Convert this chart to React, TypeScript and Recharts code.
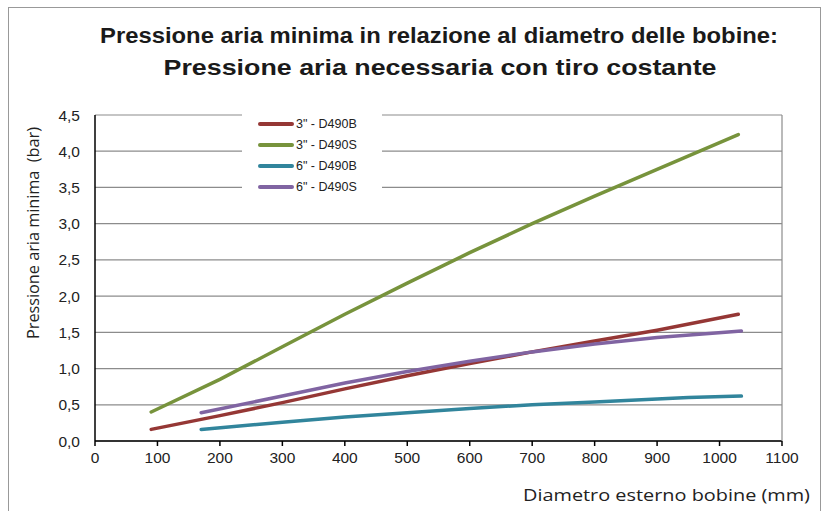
import { LineChart, Line, XAxis, YAxis, CartesianGrid } from "recharts";

const SERIES_NAMES = ['3" - D490B', '3" - D490S', '6" - D490B', '6" - D490S'];
const COLORS = ["#953735", "#77933C", "#31859C", "#8064A2"];

// diametro (mm)
const X_3B = [90, 200, 300, 400, 500, 600, 700, 800, 900, 1030];
const Y_3B = [0.16, 0.35, 0.53, 0.72, 0.9, 1.07, 1.23, 1.38, 1.53, 1.75];

const X_3S = [90, 200, 300, 400, 500, 600, 700, 800, 900, 1030];
const Y_3S = [0.4, 0.85, 1.3, 1.75, 2.18, 2.6, 3.0, 3.38, 3.75, 4.23];

const X_6B = [170, 300, 400, 500, 600, 700, 800, 900, 950, 1035];
const Y_6B = [0.16, 0.26, 0.33, 0.39, 0.45, 0.5, 0.54, 0.58, 0.6, 0.62];

const X_6S = [170, 300, 400, 500, 600, 700, 800, 900, 1035];
const Y_6S = [0.39, 0.62, 0.8, 0.96, 1.1, 1.23, 1.34, 1.43, 1.52];

const X_TICKS = [0, 100, 200, 300, 400, 500, 600, 700, 800, 900, 1000, 1100];
const Y_TICKS = [0, 0.5, 1, 1.5, 2, 2.5, 3, 3.5, 4, 4.5];

const zip = (xs: number[], ys: number[]) => xs.map((x, i) => ({ x, y: ys[i] }));
const seriesData = [zip(X_3B, Y_3B), zip(X_3S, Y_3S), zip(X_6B, Y_6B), zip(X_6S, Y_6S)];

const tickFont = { fontFamily: "Liberation Sans, Arial", fontSize: 15.5, fill: "#222" };
const labelFont = "Open Sans, DejaVu Sans, sans-serif";

// legenda sovrapposta al grafico (copre la griglia)
const LegendBox = () => (
  <div style={{ position: "absolute", left: 242, top: 112, width: 140, height: 84, background: "white" }}>
    {SERIES_NAMES.map((name, i) => (
      <div
        key={name}
        style={{
          position: "absolute",
          left: 16,
          top: 4 + i * 21,
          display: "flex",
          alignItems: "center",
          height: 16,
          fontFamily: "Liberation Sans, Arial",
          fontSize: 12.5,
          color: "#222",
        }}
      >
        <span
          style={{
            display: "inline-block",
            width: 36,
            height: 3.5,
            borderRadius: 2,
            background: COLORS[i],
            marginRight: 2,
          }}
        />
        {name}
      </div>
    ))}
  </div>
);

export default function App() {
  return (
    <div style={{ position: "absolute", left: 0, top: 0, width: 822, height: 511, background: "white", overflow: "hidden" }}>
      <div style={{ position: "absolute", left: 8, top: 7, width: 811, height: 520, border: "1px solid #999" }} />
      <svg width={822} height={90} style={{ position: "absolute", left: 0, top: 0 }}>
        <text x={439} y={43} textAnchor="middle" fontFamily="Liberation Sans, Arial" fontWeight="bold" fontSize={22.5} fill="#1a1a1a" textLength={678} lengthAdjust="spacingAndGlyphs">
          Pressione aria minima in relazione al diametro delle bobine:
        </text>
        <text x={440} y={75} textAnchor="middle" fontFamily="Liberation Sans, Arial" fontWeight="bold" fontSize={22.5} fill="#1a1a1a" textLength={553} lengthAdjust="spacingAndGlyphs">
          Pressione aria necessaria con tiro costante
        </text>
      </svg>
      <LineChart width={822} height={511} margin={{ top: 115, right: 40, left: 0, bottom: 0 }} style={{ position: "absolute", left: 0, top: 0 }}>
        <CartesianGrid horizontal vertical={false} stroke="#8c8c8c" strokeWidth={1.2} />
        <XAxis
          type="number"
          dataKey="x"
          domain={[0, 1100]}
          ticks={X_TICKS}
          height={70}
          stroke="#000"
          strokeWidth={1.5}
          tickSize={5}
          tickMargin={6}
          tick={tickFont}
          interval={0}
          allowDataOverflow
          label={{
            content: () => (
              <text x={810} y={501} textAnchor="end" fontFamily={labelFont} fontSize={17} fill="#222" textLength={287} lengthAdjust="spacingAndGlyphs">
                Diametro esterno bobine (mm)
              </text>
            ),
          }}
        />
        <YAxis
          type="number"
          dataKey="y"
          domain={[0, 4.5]}
          ticks={Y_TICKS}
          width={95}
          stroke="#000"
          strokeWidth={1.5}
          tickLine={false}
          tickSize={0}
          tickMargin={15}
          tick={tickFont}
          interval={0}
          tickFormatter={(v: number) => v.toFixed(1).replace(".", ",")}
          label={{
            content: () => (
              <text x={39} y={233} transform="rotate(-90 39 233)" textAnchor="middle" fontFamily={labelFont} fontSize={16.5} fill="#222" textLength={212} lengthAdjust="spacingAndGlyphs">
                {"Pressione aria minima \u00A0(bar)"}
              </text>
            ),
          }}
        />
        {seriesData.map((d, i) => (
          <Line
            key={SERIES_NAMES[i]}
            data={d}
            dataKey="y"
            name={SERIES_NAMES[i]}
            stroke={COLORS[i]}
            strokeWidth={3.5}
            strokeLinecap="round"
            dot={false}
            activeDot={false}
            type="linear"
            isAnimationActive={false}
          />
        ))}
      </LineChart>
      <svg width={822} height={511} style={{ position: "absolute", left: 0, top: 0, pointerEvents: "none" }}>
        <line x1={782} y1={115} x2={782} y2={441} stroke="#8c8c8c" strokeWidth={1.2} />
      </svg>
      <LegendBox />
    </div>
  );
}
